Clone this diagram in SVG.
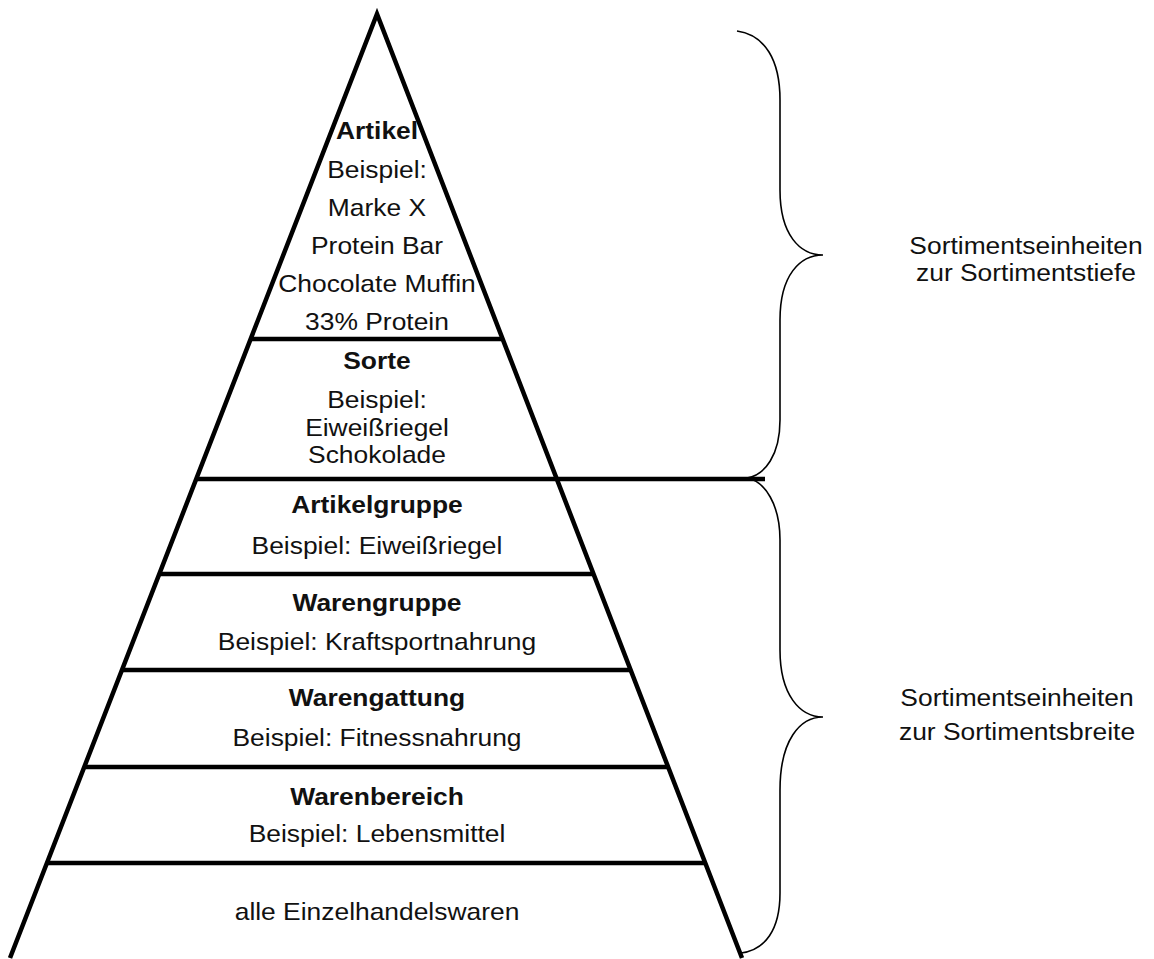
<svg xmlns="http://www.w3.org/2000/svg" width="1154" height="959" viewBox="0 0 1154 959">
<style>
  text { font-family: "Liberation Sans", Arial, sans-serif; font-size: 24px; fill: #111; text-anchor: middle; }
  .b { font-weight: bold; }
  .edge { fill: none; stroke: #000; stroke-width: 4.5; stroke-linejoin: miter; stroke-miterlimit: 20; }
  .div { stroke: #000; stroke-width: 4.5; }
  .brace { fill: none; stroke: #000; stroke-width: 1.6; }
</style>
<rect width="1154" height="959" fill="#fff"/>
<g id="pyramid">
  <polyline class="edge" points="10,958 377,14 742,958"/>
  <line class="div" x1="250" y1="339" x2="503" y2="339"/>
  <line class="div" x1="196" y1="479" x2="765" y2="479"/>
  <line class="div" x1="159" y1="574" x2="594" y2="574"/>
  <line class="div" x1="121" y1="670" x2="631" y2="670"/>
  <line class="div" x1="84" y1="767" x2="668" y2="767"/>
  <line class="div" x1="46" y1="863" x2="706" y2="863"/>
</g>
<g id="artikel" transform="translate(377,0) scale(1.1,1)">
  <text class="b" x="0" y="139">Artikel</text>
  <text x="0" y="178">Beispiel:</text>
  <text x="0" y="216">Marke X</text>
  <text x="0" y="254">Protein Bar</text>
  <text x="0" y="292">Chocolate Muffin</text>
  <text x="0" y="330">33% Protein</text>
</g>
<g id="sorte" transform="translate(377,0) scale(1.1,1)">
  <text class="b" x="0" y="369">Sorte</text>
  <text x="0" y="408">Beispiel:</text>
  <text x="0" y="436">Eiweißriegel</text>
  <text x="0" y="463">Schokolade</text>
</g>
<g id="artikelgruppe" transform="translate(377,0) scale(1.1,1)">
  <text class="b" x="0" y="513">Artikelgruppe</text>
  <text x="0" y="554">Beispiel: Eiweißriegel</text>
</g>
<g id="warengruppe" transform="translate(377,0) scale(1.1,1)">
  <text class="b" x="0" y="611">Warengruppe</text>
  <text x="0" y="650">Beispiel: Kraftsportnahrung</text>
</g>
<g id="warengattung" transform="translate(377,0) scale(1.1,1)">
  <text class="b" x="0" y="706">Warengattung</text>
  <text x="0" y="746">Beispiel: Fitnessnahrung</text>
</g>
<g id="warenbereich" transform="translate(377,0) scale(1.1,1)">
  <text class="b" x="0" y="805">Warenbereich</text>
  <text x="0" y="842">Beispiel: Lebensmittel</text>
</g>
<g id="einzelhandelswaren" transform="translate(377,0) scale(1.1,1)">
  <text x="0" y="920">alle Einzelhandelswaren</text>
</g>
<g id="connectors">
  <path class="brace" d="M737,31 C765,35 780,60 780,100 L780,190 C780,235 800,255 823,255 C800,255 780,275 780,320 L780,420 C780,455 765,475 747,478"/>
  <path class="brace" d="M747,478 C765,481 780,505 780,540 L780,650 C780,695 800,717 823,717 C800,717 780,740 780,790 L780,893 C780,930 765,950 741,953"/>
</g>
<g id="tiefe" transform="translate(1026,0) scale(1.1,1)">
  <text x="0" y="254">Sortimentseinheiten</text>
  <text x="0" y="281">zur Sortimentstiefe</text>
</g>
<g id="breite" transform="translate(1017,0) scale(1.1,1)">
  <text x="0" y="706">Sortimentseinheiten</text>
  <text x="0" y="740">zur Sortimentsbreite</text>
</g>
</svg>
